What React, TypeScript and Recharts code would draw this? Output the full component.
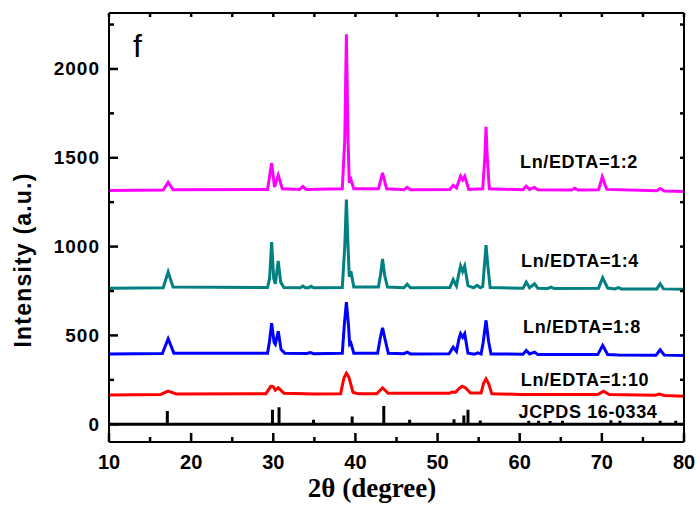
import React from "react";
import { LineChart, Line, XAxis, YAxis } from "recharts";

// 2θ (degree), intensity (a.u.)
const ln12: [number, number][] = [
  [10, 1316], [16.6, 1318], [17.2, 1362], [17.8, 1320], [29.3, 1322], [29.8, 1470], [30.15, 1335],
  [30.6, 1402], [31.1, 1325], [33.2, 1322], [33.6, 1338], [34.0, 1322], [38.4, 1325], [38.7, 1600],
  [38.9, 2195], [39.1, 1600], [39.25, 1360], [39.45, 1378], [39.8, 1325], [42.8, 1325], [43.3, 1415],
  [43.8, 1325], [45.9, 1320], [46.3, 1334], [46.7, 1320], [51.5, 1322], [51.9, 1345], [52.3, 1330],
  [52.8, 1396], [53.05, 1375], [53.3, 1396], [53.8, 1322], [55.5, 1325], [55.75, 1500], [55.9, 1674],
  [56.05, 1500], [56.3, 1325], [60.4, 1320], [60.8, 1340], [61.2, 1322], [61.8, 1333], [62.2, 1320],
  [66.3, 1318], [66.7, 1328], [67.1, 1318], [69.6, 1320], [70.05, 1392], [70.6, 1322], [76.7, 1314],
  [77.1, 1327], [77.6, 1313], [80, 1310],
];

const ln14: [number, number][] = [
  [10, 765], [16.6, 768], [17.2, 857], [17.8, 772], [29.3, 770], [29.55, 820], [29.8, 1026], [30.05, 820],
  [30.25, 790], [30.6, 919], [30.9, 800], [31.3, 770], [33.3, 768], [33.6, 778], [33.9, 768], [34.3, 768],
  [34.6, 777], [34.9, 768], [38.4, 770], [38.7, 1000], [38.9, 1265], [39.1, 1000], [39.25, 830], [39.45, 861],
  [39.8, 772], [42.8, 772], [43.05, 840], [43.3, 930], [43.55, 840], [43.9, 772], [45.9, 768], [46.3, 788],
  [46.7, 768], [51.5, 770], [51.9, 814], [52.3, 778], [52.6, 850], [52.8, 891], [53.05, 860], [53.3, 891],
  [53.7, 780], [54.4, 768], [54.8, 782], [55.2, 768], [55.5, 775], [55.75, 920], [55.9, 1008], [56.1, 900],
  [56.4, 770], [60.4, 765], [60.8, 800], [61.2, 768], [61.8, 791], [62.2, 766], [63.4, 764], [63.8, 772],
  [64.2, 764], [69.6, 766], [70.1, 825], [70.7, 767], [71.6, 762], [72, 769], [72.4, 762], [76.7, 762],
  [77.1, 791], [77.5, 762], [80, 760],
];

const ln18: [number, number][] = [
  [10, 395], [16.5, 398], [17.2, 481], [17.9, 400], [29.3, 400], [29.55, 470], [29.8, 569], [30.1, 460],
  [30.25, 450], [30.6, 523], [30.95, 420], [31.4, 400], [34.1, 398], [34.5, 404], [34.9, 397], [38.4, 400],
  [38.65, 560], [38.9, 688], [39.15, 560], [39.3, 450], [39.45, 457], [39.8, 400], [42.7, 400], [43.0, 480],
  [43.3, 543], [43.6, 480], [44.0, 400], [45.9, 397], [46.3, 406], [46.7, 396], [51.4, 397], [51.9, 434],
  [52.3, 410], [52.6, 480], [52.8, 510], [53.05, 490], [53.3, 510], [53.7, 400], [54.5, 394], [54.9, 402],
  [55.3, 395], [55.55, 460], [55.9, 585], [56.2, 470], [56.5, 396], [60.4, 394], [60.8, 415], [61.2, 396],
  [61.8, 406], [62.2, 393], [69.5, 392], [70.1, 444], [70.7, 393], [72, 390], [76.6, 389], [77.1, 419],
  [77.6, 389], [80, 387],
];

const ln110: [number, number][] = [
  [10, 165], [16.3, 168], [17.2, 186], [18.2, 170], [29.1, 172], [29.7, 213], [30.0, 212], [30.25, 192],
  [30.6, 205], [31.3, 175], [35, 170], [38.2, 172], [38.6, 260], [38.9, 287], [39.2, 265], [39.7, 180],
  [40.3, 172], [42.6, 172], [43.3, 205], [44.0, 174], [51.4, 174], [51.8, 181], [52.2, 180], [52.6, 200],
  [53.0, 214], [53.4, 205], [54.0, 176], [55.3, 176], [55.6, 230], [55.9, 255], [56.2, 230], [56.6, 172],
  [60, 168], [69.5, 167], [70.2, 186], [70.9, 167], [76.5, 163], [77, 170], [77.6, 162], [80, 158],
];

// JCPDS 16-0334 reference lines: position, height
const jcpdsPos = [17.1, 29.9, 30.7, 34.9, 39.6, 43.45, 46.6, 52.0, 53.2, 53.7, 55.2, 61.1, 62.3, 63.7, 65.2, 71.1, 72.2, 77.1, 79.0];
const jcpdsInt = [74, 82, 96, 25, 43, 103, 25, 28, 49, 81, 21, 20, 20, 18, 20, 22, 20, 20, 20];

const xTicks = [10, 15, 20, 25, 30, 35, 40, 45, 50, 55, 60, 65, 70, 75, 80];
const yTicks = [0, 250, 500, 750, 1000, 1250, 1500, 1750, 2000, 2250];

const toPts = (arr: [number, number][]) => arr.map(([x, y]) => ({ x, y }));

const stickData = (() => {
  const pts: { x: number; y: number }[] = [{ x: 10, y: 0 }];
  jcpdsPos.forEach((p, i) => {
    pts.push({ x: p, y: 0 }, { x: p, y: jcpdsInt[i] }, { x: p, y: 0 });
  });
  pts.push({ x: 80, y: 0 });
  return pts;
})();

const FONT = "'Liberation Sans', Arial, sans-serif";
const TICK_W = 2.5;

const LeftTick = (props: any) => {
  const { x, y, payload } = props;
  const major = payload.value % 500 === 0;
  return (
    <g>
      <line x1={x} x2={x + (major ? 9 : 5)} y1={y} y2={y} stroke="#000" strokeWidth={TICK_W} />
      {major && (
        <text x={x - 9} y={y} textAnchor="end" dominantBaseline="central" fontFamily={FONT}
          fontWeight="bold" fontSize={19} letterSpacing={1} fill="#000">
          {payload.value}
        </text>
      )}
    </g>
  );
};

const RightTick = (props: any) => {
  const { x, y } = props;
  return <line x1={x} x2={x - 4} y1={y} y2={y} stroke="#000" strokeWidth={TICK_W} />;
};

const BottomTick = (props: any) => {
  const { x, y, payload } = props;
  const major = payload.value % 10 === 0;
  return (
    <g>
      <line x1={x} x2={x} y1={y} y2={y - (major ? 9 : 5)} stroke="#000" strokeWidth={TICK_W} />
      {major && (
        <text x={x} y={y + 20} textAnchor="middle" dominantBaseline="central" fontFamily={FONT}
          fontWeight="bold" fontSize={20} fill="#000">
          {payload.value}
        </text>
      )}
    </g>
  );
};

const TopTick = (props: any) => {
  const { x, y } = props;
  return <line x1={x} x2={x} y1={y} y2={y + 4} stroke="#000" strokeWidth={TICK_W} />;
};

const series = [
  { name: "Ln/EDTA=1:2", data: ln12, color: "#FF00FF" },
  { name: "Ln/EDTA=1:4", data: ln14, color: "#008080" },
  { name: "Ln/EDTA=1:8", data: ln18, color: "#0000FF" },
  { name: "Ln/EDTA=1:10", data: ln110, color: "#FF0000" },
];

const labels = [
  { text: "Ln/EDTA=1:2", x: 579, y: 162 },
  { text: "Ln/EDTA=1:4", x: 580, y: 261 },
  { text: "Ln/EDTA=1:8", x: 582, y: 327 },
  { text: "Ln/EDTA=1:10", x: 585, y: 380 },
  { text: "JCPDS 16-0334", x: 588, y: 412 },
];

export default function App() {
  return (
    <div style={{ position: "absolute", left: 0, top: 0, width: 697, height: 508, background: "#fff" }}>
      <LineChart width={697} height={508} margin={{ top: 8, right: 8, bottom: 6, left: 0 }}>
        <XAxis xAxisId="b" type="number" dataKey="x" domain={[10, 80]} ticks={xTicks} height={60}
          tickSize={0} tickMargin={0} tickLine={false} tick={<BottomTick />} interval={0}
          axisLine={{ stroke: "#000", strokeWidth: 2 }} allowDataOverflow />
        <XAxis xAxisId="t" orientation="top" type="number" dataKey="x" domain={[10, 80]} ticks={xTicks} height={5}
          tickSize={0} tickMargin={0} tickLine={false} tick={<TopTick />} interval={0}
          axisLine={{ stroke: "#000", strokeWidth: 2 }} allowDataOverflow />
        <YAxis yAxisId="l" type="number" domain={[-100, 2315]} ticks={yTicks} width={109}
          tickSize={0} tickMargin={0} tickLine={false} tick={<LeftTick />} interval={0}
          axisLine={{ stroke: "#000", strokeWidth: 2 }} allowDataOverflow />
        <YAxis yAxisId="r" orientation="right" type="number" domain={[-100, 2315]} ticks={yTicks} width={5}
          tickSize={0} tickMargin={0} tickLine={false} tick={<RightTick />} interval={0}
          axisLine={{ stroke: "#000", strokeWidth: 2 }} allowDataOverflow />
        <Line xAxisId="b" yAxisId="l" data={stickData} dataKey="y" stroke="#000" strokeWidth={3}
          dot={false} isAnimationActive={false} type="linear" strokeLinejoin="bevel" />
        {series.map((s) => (
          <Line key={s.name} xAxisId="b" yAxisId="l" data={toPts(s.data)} dataKey="y" name={s.name}
            stroke={s.color} strokeWidth={3} dot={false} isAnimationActive={false} type="linear" />
        ))}
      </LineChart>
      <svg width={697} height={508} style={{ position: "absolute", left: 0, top: 0, pointerEvents: "none" }}>
        <text x={133} y={57} fontFamily={FONT} fontSize={32} fill="#000">f</text>
        {labels.map((l) => (
          <text key={l.text} x={l.x} y={l.y} textAnchor="middle" dominantBaseline="central"
            fontFamily={FONT} fontWeight="bold" fontSize={18} letterSpacing={0.6} fill="#000">
            {l.text}
          </text>
        ))}
        <text x={31} y={260} transform="rotate(-90, 31, 260)" textAnchor="middle" fontFamily={FONT}
          fontWeight="bold" fontSize={23} letterSpacing={1.2} fill="#000">
          Intensity (a.u.)
        </text>
        <text x={372} y={497} textAnchor="middle" fontFamily="'Liberation Serif', 'Times New Roman', serif"
          fontWeight="bold" fontSize={27} fill="#000">
          2θ (degree)
        </text>
      </svg>
    </div>
  );
}
